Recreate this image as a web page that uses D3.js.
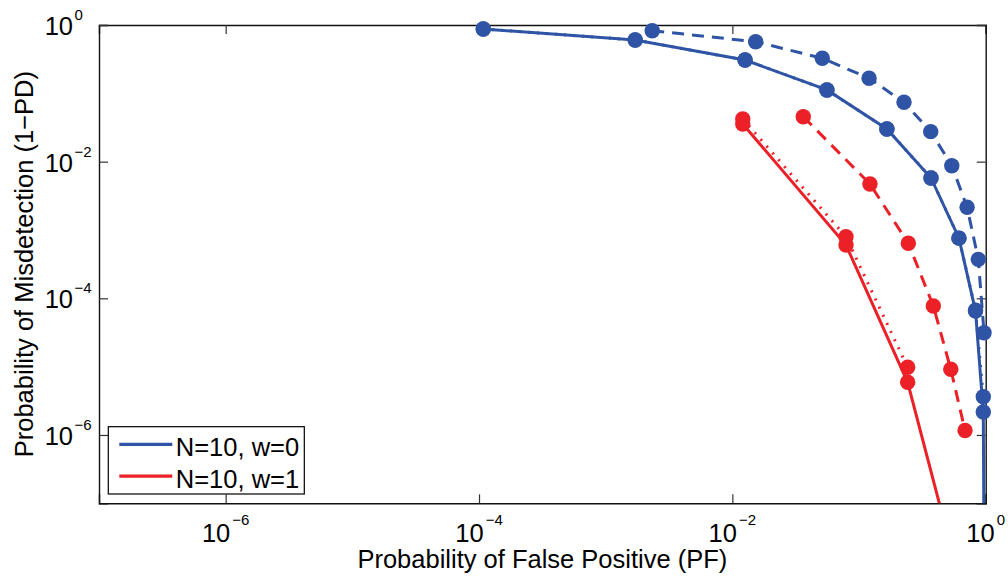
<!DOCTYPE html>
<html>
<head>
<meta charset="utf-8">
<script src="https://cdn.jsdelivr.net/npm/d3@7"></script>
<style>
    body { margin: 0; background: #fff; }
    svg text { font-family: "Liberation Sans", Arial, Helvetica, sans-serif; fill: #000; }
</style>
</head>
<body>
<svg id="roc-chart" width="1008" height="579"></svg>
<script>
// values (PF on x, 1-PD on y)
var blueSolidPF = [1.08e-4, 1.71e-3, 0.0126, 0.0558, 0.166, 0.370, 0.615, 0.831, 0.957, 0.98]
var blueSolidPM = [0.874, 0.603, 0.307, 0.112, 0.0301, 5.77e-3, 7.6e-4, 6.5e-5, 2.17e-6, 1e-9]
var blueDotPF = [1.08e-4, 1.71e-3, 0.0126, 0.0558, 0.166, 0.370, 0.615, 0.831, 0.957]
var blueDotPM = [0.874, 0.603, 0.307, 0.112, 0.0301, 5.77e-3, 7.6e-4, 6.7e-5, 3.63e-6]
var blueDashPF = [2.33e-3, 0.01528, 0.0513, 0.120, 0.2265, 0.368, 0.540, 0.713, 0.874, 0.970]
var blueDashPM = [0.825, 0.569, 0.326, 0.166, 0.0739, 0.0275, 8.73e-3, 2.15e-3, 3.72e-4, 3.14e-5]
var redSolidPF = [0.01208, 0.0789, 0.242, 0.596]
var redSolidPM = [0.0356, 6.03e-4, 5.9e-6, 1e-8]
var redDotPF = [0.01208, 0.0789, 0.242]
var redDotPM = [0.0421, 7.97e-4, 9.78e-6]
var redDashPF = [0.0363, 0.122, 0.245, 0.386, 0.530, 0.687]
var redDashPM = [0.0455, 4.71e-3, 6.39e-4, 7.72e-5, 9.15e-6, 1.16e-6]

var xTickExp = [-6, -4, -2, 0]
var yTickExp = [0, -2, -4, -6]
var legendLabels = ["N=10, w=0", "N=10, w=1"]

var blue = "#2f54a5", red = "#ec2027"

var series = [
    { pf: blueDotPF, pm: blueDotPM, color: blue, dash: "2,7" },
    { pf: blueDashPF, pm: blueDashPM, color: blue, dash: "12,8" },
    { pf: blueSolidPF, pm: blueSolidPM, color: blue, dash: null },
    { pf: redDotPF, pm: redDotPM, color: red, dash: "2,7" },
    { pf: redSolidPF, pm: redSolidPM, color: red, dash: null },
    { pf: redDashPF, pm: redDashPM, color: red, dash: "12,8" }
]

var svg = d3.select("#roc-chart"),
    margin = { top: 25, right: 22.3, bottom: 75.7, left: 99 },
    width = +svg.attr("width") - margin.left - margin.right,
    height = +svg.attr("height") - margin.top - margin.bottom,
    g = svg.append("g").attr("transform", "translate(" + margin.left + "," + margin.top + ")")

var x = d3.scaleLog().domain([1e-7, 1]).range([0, width])
var y = d3.scaleLog().domain([1e-7, 1]).range([height, 0])

svg.append("defs").append("clipPath").attr("id", "plot-clip")
    .append("rect").attr("width", width).attr("height", height)

// box with inward ticks on all four sides
var tickLen = 9
g.append("g").attr("transform", "translate(0," + height + ")")
    .call(d3.axisBottom(x).tickValues(xTickExp.map(function (e) { return Math.pow(10, e) })).tickSize(-tickLen).tickFormat(""))
g.append("g")
    .call(d3.axisTop(x).tickValues(xTickExp.map(function (e) { return Math.pow(10, e) })).tickSize(-tickLen).tickFormat(""))
g.append("g")
    .call(d3.axisLeft(y).tickValues(yTickExp.map(function (e) { return Math.pow(10, e) })).tickSize(-tickLen).tickFormat(""))
g.append("g").attr("transform", "translate(" + width + ",0)")
    .call(d3.axisRight(y).tickValues(yTickExp.map(function (e) { return Math.pow(10, e) })).tickSize(-tickLen).tickFormat(""))
g.selectAll(".domain").attr("stroke", "#111").attr("stroke-width", 1.4)
g.selectAll(".tick line").attr("stroke", "#333").attr("stroke-width", 1.2)

// x tick labels 10^e
g.selectAll(".xlab")
    .data(xTickExp)
    .enter().append("text")
    .attr("class", "xlab")
    .attr("x", function (d) { return x(Math.pow(10, d)) })
    .attr("y", height + 38.4)
    .attr("text-anchor", "middle")
    .style("font-size", "25.5px")
    .each(function (d) {
        var t = d3.select(this)
        t.append("tspan").text("10")
        t.append("tspan").attr("dx", 2).attr("dy", -16.7).style("font-size", "15px")
            .text(d < 0 ? "\u2212" + (-d) : d)
    })

// y tick labels: "10" right edge fixed, exponent after it
var yLab = g.selectAll(".ylab")
    .data(yTickExp)
    .enter().append("g")
    .attr("class", "ylab")
    .attr("transform", function (d) { return "translate(0," + y(Math.pow(10, d)) + ")" })
yLab.append("text")
    .attr("x", -26).attr("y", 10)
    .attr("text-anchor", "end")
    .style("font-size", "25.5px")
    .text("10")
yLab.append("text")
    .attr("x", -24.5).attr("y", -5)
    .style("font-size", "15px")
    .text(function (d) { return d < 0 ? "\u2212" + (-d) : d })

// axis titles
g.append("text")
    .attr("x", width / 2).attr("y", height + 65)
    .attr("text-anchor", "middle")
    .style("font-size", "25.5px")
    .text("Probability of False Positive (PF)")
g.append("text")
    .attr("transform", "translate(-66," + (height / 2) + ") rotate(-90)")
    .attr("text-anchor", "middle")
    .style("font-size", "25.5px")
    .text("Probability of Misdetection (1\u2212PD)")

// curves
var line = d3.line()
    .x(function (d) { return x(d[0]) })
    .y(function (d) { return y(d[1]) })

var curves = g.append("g")
series.forEach(function (s) {
    var pts = d3.zip(s.pf, s.pm)
    curves.append("path")
        .datum(pts)
        .attr("clip-path", "url(#plot-clip)")
        .attr("fill", "none")
        .attr("stroke", s.color)
        .attr("stroke-width", 3)
        .attr("stroke-dasharray", s.dash)
        .attr("d", line)
    curves.selectAll(null)
        .data(pts.filter(function (d) { return d[1] >= 1e-7 }))
        .enter().append("circle")
        .attr("cx", function (d) { return x(d[0]) })
        .attr("cy", function (d) { return y(d[1]) })
        .attr("r", 7.7)
        .attr("fill", s.color)
})

// legend
var legend = g.append("g").attr("transform", "translate(9.3,401.7)")
legend.append("rect")
    .attr("width", 196).attr("height", 67.3)
    .attr("fill", "#fff").attr("stroke", "#000").attr("stroke-width", 1.2)
var entry = legend.selectAll(".entry")
    .data(legendLabels)
    .enter().append("g")
    .attr("transform", function (d, i) { return "translate(0," + (17.6 + i * 31.8) + ")" })
entry.append("line")
    .attr("x1", 11).attr("x2", 64)
    .attr("stroke", function (d, i) { return i == 0 ? blue : red })
    .attr("stroke-width", 3.2)
entry.append("text")
    .attr("x", 67.5).attr("y", 11.4)
    .style("font-size", "25.5px")
    .text(function (d) { return d })
</script>
</body>
</html>
